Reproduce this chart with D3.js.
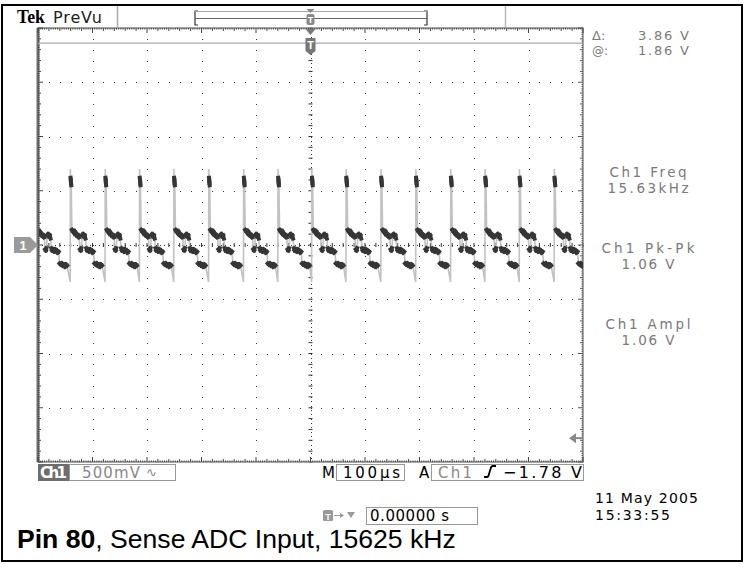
<!DOCTYPE html>
<html><head><meta charset="utf-8">
<script src="https://cdn.jsdelivr.net/npm/d3@7/dist/d3.min.js"></script>
<style>html,body{margin:0;padding:0;background:#fff;}svg{display:block}</style>
</head><body>
<svg id="c" width="745" height="564"></svg>
<script>
// ---------------- data ----------------
const voltsPerDiv = 0.5;      // V per division (Ch1 500mV)
const timePerDiv = 100;       // µs per division (M 100µs)
const hDivs = 10, vDivs = 8;
// times (µs, trigger = 0) at which each period of the waveform starts (rising spike)
const spikeTimes = [-505, -441, -377, -314, -251, -187, -123, -60, 2, 65, 129, 193, 257, 320, 383, 447];
// one period of the waveform: time after spike start (µs) and level (V)
const shapeT = [0, 0.4, 0.8, 1.2, 1.6, 2.0, 3.2, 4.5, 6, 7.5, 9, 10.5, 12, 13.5, 15, 16.5,
                18, 19.5, 20.5, 22, 23.5, 25, 26.5, 28, 29.5, 31, 33, 35, 37, 39, 41, 43,
                44.5, 46.5, 48.5, 50.5, 52.5, 54.5, 56.5, 58.5];
const shapeV = [-0.34, 0.70, 0.62, 0.60, 0.57, 0.55, 0.14, 0.13, 0.12, 0.13, 0.10, 0.11, 0.09, 0.08, 0.09, 0.07,
                -0.04, -0.05, -0.03, 0.09, 0.10, 0.08, 0.09, 0.06, -0.03, -0.05, -0.04, -0.06, -0.04, -0.05, -0.07, -0.06,
                -0.17, -0.18, -0.17, -0.19, -0.18, -0.20, -0.18, -0.19];
const cursorAt = 1.86;                 // V
const triggerLevel = -1.78;            // V
const cursorLabels = ["Δ:", "@:"];
const cursorValues = ["3.86 V", "1.86 V"];
const measNames = ["Ch1 Freq", "Ch1 Pk-Pk", "Ch1 Ampl"];
const measValues = ["15.63kHz", "1.06 V", "1.06 V"];
const headerLabels = ["Tek", "PreVu"];
const statusLabels = ["Ch1", "500mV", "M", "100µs", "A", "Ch1", "−1.78 V"];
const dateLines = ["11 May 2005", "15:33:55"];
const triggerPosLabel = "0.00000 s";
const captionBold = "Pin 80";
const captionRest = ", Sense ADC Input, 15625 kHz";

// ---------------- drawing ----------------
const W = 745, H = 564;
const svg = d3.select("#c");
const P = {left: 38, right: 583, top: 28, bottom: 462};
const x = d3.scaleLinear().domain([-hDivs / 2 * timePerDiv, hDivs / 2 * timePerDiv]).range([P.left, P.right]);
const y = d3.scaleLinear().domain([-vDivs / 2 * voltsPerDiv, vDivs / 2 * voltsPerDiv]).range([P.bottom, P.top]);
const SANS = "'Liberation Sans', Arial, sans-serif";
const DJ = "'DejaVu Sans', sans-serif";

svg.append("rect").attr("width", W).attr("height", H).attr("fill", "#fff");

function txt(g, px, py, s, o = {}) {
  const t = g.append("text").attr("x", px).attr("y", py).text(s)
    .attr("font-family", o.family || SANS).attr("font-size", o.size || 14)
    .attr("font-weight", o.weight || "normal").attr("fill", o.fill || "#000")
    .attr("text-anchor", o.anchor || "start");
  if (o.width) t.attr("textLength", o.width).attr("lengthAdjust", o.adjust || "spacing");
  return t;
}

// outer frame
svg.append("rect").attr("x", 2).attr("y", 5).attr("width", 740).attr("height", 556)
  .attr("fill", "none").attr("stroke", "#000").attr("stroke-width", 2);

// ---- header ----
const hdr = svg.append("g");
txt(hdr, 17, 23, headerLabels[0], {family: "'Liberation Serif', serif", size: 18, weight: "bold", width: 28, adjust: "spacingAndGlyphs"});
txt(hdr, 53, 23, headerLabels[1], {family: DJ, size: 16, fill: "#222", width: 49});
hdr.append("line").attr("x1", 117.5).attr("x2", 117.5).attr("y1", 6).attr("y2", 27).attr("stroke", "#aaa").attr("stroke-width", 1.5);
hdr.append("line").attr("x1", 505.5).attr("x2", 505.5).attr("y1", 6).attr("y2", 27).attr("stroke", "#bbb").attr("stroke-width", 1.5);
// record-position bar
hdr.append("path").attr("d", "M198,11 L195,11 L195,25 L198,25 M424,11 L427,11 L427,25 L424,25")
  .attr("fill", "none").attr("stroke", "#333").attr("stroke-width", 1.2);
hdr.append("line").attr("x1", 195).attr("x2", 427).attr("y1", 18.5).attr("y2", 18.5).attr("stroke", "#666").attr("stroke-width", 1);
hdr.append("line").attr("x1", 195).attr("x2", 427).attr("y1", 11.5).attr("y2", 11.5).attr("stroke", "#aaa").attr("stroke-width", 1);
const tx0 = x(0);
hdr.append("path").attr("d", `M${tx0 - 4},9 L${tx0 + 4},9 L${tx0},13 Z`).attr("fill", "#888");
hdr.append("rect").attr("x", tx0 - 4).attr("y", 14).attr("width", 8).attr("height", 11).attr("rx", 2).attr("fill", "#888");
txt(hdr, tx0, 23, "T", {size: 9, weight: "bold", fill: "#fff", anchor: "middle"});

// ---- graticule ----
const grid = svg.append("g");
function dot(px, py, c) {
  grid.append("rect").attr("x", Math.round(px)).attr("y", Math.round(py)).attr("width", 1).attr("height", 1).attr("fill", c || "#333");
}
const xDiv = d3.range(-hDivs / 2, hDivs / 2 + 1).map(d => d * timePerDiv);
const yDiv = d3.range(-vDivs / 2, vDivs / 2 + 1).map(d => d * voltsPerDiv);
const xMinor = d3.range(-hDivs / 2 * 5, hDivs / 2 * 5 + 1).map(d => d * timePerDiv / 5);
const yMinor = d3.range(-vDivs / 2 * 5, vDivs / 2 * 5 + 1).map(d => d * voltsPerDiv / 5);
const xFine = d3.range(-hDivs / 2 * 25, hDivs / 2 * 25 + 1).map(d => d * timePerDiv / 25);
const yFine = d3.range(-vDivs / 2 * 25, vDivs / 2 * 25 + 1).map(d => d * voltsPerDiv / 25);

xDiv.slice(1, -1).filter(t => t !== 0).forEach(t => yMinor.slice(1, -1).forEach(v => dot(x(t), y(v))));
yDiv.slice(1, -1).filter(v => v !== 0).forEach(v => xMinor.slice(1, -1).forEach(t => dot(x(t), y(v))));
xFine.forEach((t, i) => { if (i % 2 === 0) dot(x(t), y(0)); });
yFine.forEach((v, i) => { if (i % 2 === 0) dot(x(0), y(v)); });
xMinor.forEach(t => grid.append("line").attr("x1", x(t)).attr("x2", x(t)).attr("y1", y(0) - 2).attr("y2", y(0) + 2).attr("stroke", "#333").attr("stroke-width", 1));
yMinor.forEach(v => grid.append("line").attr("x1", x(0) - 2).attr("x2", x(0) + 2).attr("y1", y(v)).attr("y2", y(v)).attr("stroke", "#333").attr("stroke-width", 1));

// edges with ticks
const edge = svg.append("g");
edge.append("rect").attr("x", P.left).attr("y", P.top).attr("width", P.right - P.left).attr("height", P.bottom - P.top)
  .attr("fill", "none").attr("stroke", "#888").attr("stroke-width", 1.5);
edge.append("line").attr("x1", P.left).attr("x2", P.left).attr("y1", P.top).attr("y2", P.bottom).attr("stroke", "#6f6f6f").attr("stroke-width", 3);
xFine.forEach((t, i) => {
  const L = i % 5 === 0 ? (i % 25 === 0 ? 5 : 3) : 1.5;
  edge.append("line").attr("x1", x(t)).attr("x2", x(t)).attr("y1", P.top).attr("y2", P.top + L).attr("stroke", "#444").attr("stroke-width", 1);
  edge.append("line").attr("x1", x(t)).attr("x2", x(t)).attr("y1", P.bottom).attr("y2", P.bottom - L).attr("stroke", "#444").attr("stroke-width", 1);
});
yFine.forEach((v, i) => {
  const L = i % 5 === 0 ? (i % 25 === 0 ? 5 : 3) : 1.5;
  edge.append("line").attr("x1", P.left).attr("x2", P.left + L).attr("y1", y(v)).attr("y2", y(v)).attr("stroke", "#444").attr("stroke-width", 1);
  edge.append("line").attr("x1", P.right).attr("x2", P.right - L).attr("y1", y(v)).attr("y2", y(v)).attr("stroke", "#555").attr("stroke-width", 1);
});

// cursor line
svg.append("line").attr("x1", P.left).attr("x2", P.right).attr("y1", y(cursorAt)).attr("y2", y(cursorAt))
  .attr("stroke", "#aaa").attr("stroke-width", 1.2);

// trigger position marker
const tm = svg.append("g");
tm.append("path").attr("d", `M${tx0 - 5},${P.top + 1} L${tx0 + 5},${P.top + 1} L${tx0},${P.top + 7} Z`).attr("fill", "#777");
tm.append("path").attr("d", `M${tx0 - 5},${P.top + 10} h10 v13 l-5,4 l-5,-4 Z`).attr("fill", "#777");
txt(tm, tx0, P.top + 21, "T", {size: 11, weight: "bold", fill: "#fff", anchor: "middle"});

// trigger level marker
const tl = y(triggerLevel);
svg.append("path").attr("d", `M${P.right - 14},${tl} L${P.right - 7},${tl - 5} L${P.right - 7},${tl + 5} Z`).attr("fill", "#888");
svg.append("line").attr("x1", P.right - 8).attr("x2", P.right).attr("y1", tl).attr("y2", tl).attr("stroke", "#888").attr("stroke-width", 2);

// channel 1 ground marker
const gy = y(0);
svg.append("path").attr("d", `M14,${gy - 8} h16 l8,8 l-8,8 h-16 Z`).attr("fill", "#9a9a9a");
txt(svg, 23, gy + 5, "1", {size: 13, weight: "bold", fill: "#fff", anchor: "middle"});

// ---- waveform ----
svg.append("clipPath").attr("id", "clip").append("rect")
  .attr("x", P.left + 1).attr("y", P.top).attr("width", P.right - P.left - 1).attr("height", P.bottom - P.top);
const pts = [];
spikeTimes.forEach(s => shapeT.forEach((t, i) => pts.push([s + t, shapeV[i]])));
const trace = svg.append("g").attr("clip-path", "url(#clip)");
const line = d3.line().x(d => x(d[0])).y(d => y(d[1]));
trace.append("path").attr("d", line(pts)).attr("fill", "none").attr("stroke", "#c2c2c2").attr("stroke-width", 1.6);
const darkSegs = [];
for (let i = 1; i < pts.length; i++) {
  const dy = Math.abs(y(pts[i][1]) - y(pts[i - 1][1]));
  if (dy < 7) darkSegs.push([pts[i - 1], pts[i]]);
}
trace.selectAll("path.dk").data(darkSegs).join("path").attr("class", "dk")
  .attr("d", d => line(d)).attr("fill", "none").attr("stroke", "#363636").attr("stroke-width", 4).attr("stroke-linecap", "square");

// ---- right readouts ----
const rp = svg.append("g");
const gray = "#7a7a7a";
txt(rp, 592, 40, cursorLabels[0], {family: DJ, size: 13, fill: gray});
txt(rp, 592, 55, cursorLabels[1], {family: DJ, size: 12, fill: gray});
txt(rp, 689, 40, cursorValues[0], {family: DJ, size: 13, fill: gray, anchor: "end", width: 51});
txt(rp, 689, 55, cursorValues[1], {family: DJ, size: 13, fill: gray, anchor: "end", width: 51});
const measY = [177, 253, 329];
const nameW = [77, 93, 85], valW = [81, 53, 53];
measNames.forEach((n, i) => {
  txt(rp, 648, measY[i], n, {family: DJ, size: 13.5, fill: gray, anchor: "middle", width: nameW[i]});
  txt(rp, 648, measY[i] + 16, measValues[i], {family: DJ, size: 13.5, fill: gray, anchor: "middle", width: valW[i]});
});

// ---- status bar ----
const sb = svg.append("g");
const sy = 464, sh = 17, sBase = 478;
sb.append("rect").attr("x", 38).attr("y", sy).attr("width", 31).attr("height", sh).attr("fill", "#6d6d6d");
txt(sb, 53.5, sBase, statusLabels[0], {family: DJ, size: 15, weight: "bold", fill: "#fff", anchor: "middle", width: 27});
sb.append("rect").attr("x", 69.5).attr("y", sy + 0.5).attr("width", 106).attr("height", sh - 1).attr("fill", "none").attr("stroke", "#999");
txt(sb, 82, sBase, statusLabels[1], {family: DJ, size: 15, fill: "#888", width: 58});
txt(sb, 146, sBase - 1, "∿", {family: DJ, size: 13, fill: "#888"});
txt(sb, 322, sBase, statusLabels[2], {family: DJ, size: 15, fill: "#000", width: 12});
sb.append("rect").attr("x", 336.5).attr("y", sy + 0.5).attr("width", 68).attr("height", sh - 1).attr("fill", "none").attr("stroke", "#999");
txt(sb, 343, sBase, statusLabels[3], {family: DJ, size: 15, fill: "#000", width: 57});
txt(sb, 419, sBase, statusLabels[4], {family: DJ, size: 15, fill: "#000", width: 10});
sb.append("rect").attr("x", 431.5).attr("y", sy + 0.5).attr("width", 152).attr("height", sh - 1).attr("fill", "none").attr("stroke", "#999");
txt(sb, 438, sBase, statusLabels[5], {family: DJ, size: 15, fill: "#888", width: 34});
sb.append("path").attr("d", `M484,${sBase - 1} h3 q1.5,0 2,-3 l1.5,-5 q0.6,-3 2.5,-3 h3`).attr("fill", "none").attr("stroke", "#000").attr("stroke-width", 1.8);
txt(sb, 582, sBase, statusLabels[6], {family: DJ, size: 16, fill: "#000", anchor: "end", width: 79});

// date/time
txt(svg, 595, 503, dateLines[0], {family: DJ, size: 14, fill: "#000", width: 103});
txt(svg, 595, 520, dateLines[1], {family: DJ, size: 14, fill: "#000", width: 75});

// trigger position readout
const tp = svg.append("g");
tp.append("rect").attr("x", 323).attr("y", 510).attr("width", 10).attr("height", 11).attr("rx", 1.5).attr("fill", "#999");
txt(tp, 328, 519.5, "T", {size: 9, weight: "bold", fill: "#fff", anchor: "middle"});
tp.append("line").attr("x1", 334).attr("x2", 343).attr("y1", 515.5).attr("y2", 515.5).attr("stroke", "#999").attr("stroke-width", 1);
tp.append("path").attr("d", "M340,513 L344,515.5 L340,518 Z").attr("fill", "#999");
tp.append("path").attr("d", "M347,512 L355,512 L351,518 Z").attr("fill", "#999");
tp.append("rect").attr("x", 366.5).attr("y", 507.5).attr("width", 111).attr("height", 17).attr("fill", "none").attr("stroke", "#999");
txt(tp, 370, 521, triggerPosLabel, {family: DJ, size: 15, fill: "#000", width: 79});

// caption
const cap = svg.append("text").attr("x", 17).attr("y", 548).attr("font-family", SANS).attr("font-size", 26).attr("fill", "#000");
cap.append("tspan").attr("font-weight", "bold").text(captionBold);
cap.append("tspan").text(captionRest);
const cw = cap.node().getComputedTextLength();
cap.attr("font-size", 26 * 439 / cw);
</script>
</body></html>
